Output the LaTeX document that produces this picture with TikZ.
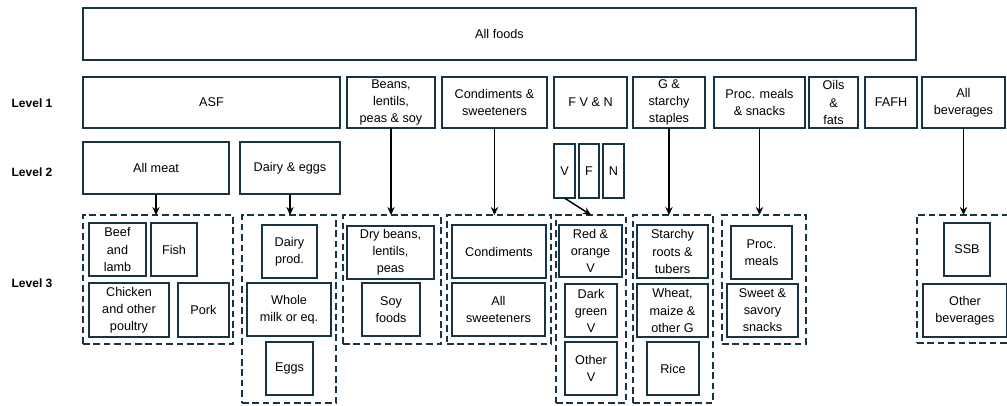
\documentclass[tikz,border=0pt]{standalone}
\usepackage{fontspec}
\setmainfont{Liberation Sans}
\usetikzlibrary{arrows,arrows.meta,positioning,calc}
\definecolor{edgeblue}{RGB}{24,52,68}

\begin{document}
\begin{tikzpicture}[
    x=0.75pt, y=-0.75pt,
    sz/.style 2 args={minimum width=#1*0.75pt, minimum height=#2*0.75pt},
    box/.style={rectangle, draw=edgeblue, line width=1.5pt, inner sep=1pt, outer sep=0pt, align=center, font=\fontsize{9.5}{12.8}\selectfont},
    group/.style={rectangle, draw=edgeblue, line width=1.2pt, dash pattern=on 5pt off 2.8pt, inner sep=0pt, outer sep=0pt},
    level/.style={font=\fontsize{9}{10}\selectfont\bfseries},
    arrow/.style={-{Stealth[length=6pt,width=5.5pt]}, line width=1.1pt}
]
\useasboundingbox (0,0) rectangle (1007,405);

% Top
\node[box, sz={833}{52}] (allfoods) at (499.5,34) {All foods};

% Level 1
\node[box, sz={257}{51}] (asf) at (211.5,102.5) {ASF};
\node[box, sz={88}{51}] (beans) at (391,102.5) {Beans,\\lentils,\\peas \& soy};
\node[box, sz={105}{51}] (cond) at (494.5,102.5) {Condiments \&\\sweeteners};
\node[box, sz={73}{51}] (fvn) at (590.5,102.5) {F V \& N};
\node[box, sz={72}{51}] (gstarch) at (669,102.5) {G \&\\starchy\\staples};
\node[box, sz={91}{51}] (procsn) at (759.5,102.5) {Proc. meals\\\& snacks};
\node[box, sz={49}{51}] (oils) at (833.5,102.5) {Oils\\\&\\fats};
\node[box, sz={52}{51}] (fafh) at (891,102.5) {FAFH};
\node[box, sz={83}{51}] (allbev) at (963.5,102.5) {All\\beverages};

% Level 2
\node[box, sz={146}{52}] (allmeat) at (156,168) {All meat};
\node[box, sz={100}{52}] (dairyeggs) at (290,168) {Dairy \& eggs};
\node[box, sz={21}{54}] (veg) at (564.5,171) {V};
\node[box, sz={20}{54}] (fruit) at (589,171) {F};
\node[box, sz={21}{54}] (nuts) at (613.5,171) {N};

% Level 3 groups
\node[group, sz={150}{129}] (grpmeat) at (158,279.5) {};
\node[group, sz={94}{188}] (grpdairy) at (289,309) {};
\node[group, sz={98}{129}] (grpbeans) at (392,279.5) {};
\node[group, sz={104}{129}] (grpcond) at (499,279.5) {};
\node[group, sz={70}{188}] (grpfvn) at (591,309) {};
\node[group, sz={80}{188}] (grpg) at (673,309) {};
\node[group, sz={84}{129}] (grpproc) at (764,279.5) {};
\node[group, sz={96}{128}] (grpbev) at (965,279) {};

% Level 3 items
\node[box, sz={57}{53}] (beef) at (117.5,249.5) {Beef\\and\\lamb};
\node[box, sz={46}{53}] (fish) at (174,249.5) {Fish};
\node[box, sz={80}{54}] (chicken) at (129,310) {Chicken\\and other\\poultry};
\node[box, sz={51}{54}] (pork) at (203.5,310) {Pork};

\node[box, sz={55}{53}] (dairyprod) at (289.5,251.5) {Dairy\\prod.};
\node[box, sz={84}{53}] (wholemilk) at (289,309.5) {Whole\\milk or eq.};
\node[box, sz={47}{53}] (eggs) at (289.5,368.5) {Eggs};

\node[box, sz={87}{53}] (drybeans) at (390.5,252.5) {Dry beans,\\lentils,\\peas};
\node[box, sz={58}{53}] (soy) at (391,309.5) {Soy\\foods};

\node[box, sz={94}{53}] (condiments) at (499,251.5) {Condiments};
\node[box, sz={93}{53}] (sweeteners) at (498.5,309.5) {All\\sweeteners};

\node[box, sz={63}{52}] (redv) at (590.5,251) {Red \&\\orange\\V};
\node[box, sz={52}{53}] (darkv) at (591,310.5) {Dark\\green\\V};
\node[box, sz={52}{53}] (otherv) at (591,368.5) {Other\\V};

\node[box, sz={71}{53}] (starchy) at (672.5,251.5) {Starchy\\roots \&\\tubers};
\node[box, sz={71}{53}] (wheat) at (672.5,310.5) {Wheat,\\maize \&\\other G};
\node[box, sz={52}{53}] (rice) at (673,368.5) {Rice};

\node[box, sz={61}{53}] (procmeals) at (761.5,252.5) {Proc.\\meals};
\node[box, sz={71}{53}] (snacks) at (762.5,310.5) {Sweet \&\\savory\\snacks};

\node[box, sz={46}{53}] (ssb) at (967,249.5) {SSB};
\node[box, sz={84}{53}] (otherbev) at (965,310.5) {Other\\beverages};

% Arrows
\draw[arrow] (allmeat.south) -- (allmeat.south |- grpmeat.north);
\draw[arrow] (dairyeggs.south) -- (dairyeggs.south |- grpdairy.north);
\draw[arrow] (beans.south) -- (beans.south |- grpbeans.north);
\draw[arrow] (cond.south) -- (cond.south |- grpcond.north);
\draw[arrow] (veg.south) -- (grpfvn.north);
\draw[arrow] (gstarch.south) -- (gstarch.south |- grpg.north);
\draw[arrow] (procsn.south) -- (procsn.south |- grpproc.north);
\draw[arrow] (allbev.south) -- (allbev.south |- grpbev.north);

% Labels
\node[level] (lvl1) at (32,103) {Level 1};
\node[level] (lvl2) at (32,172) {Level 2};
\node[level] (lvl3) at (32,283) {Level 3};

\end{tikzpicture}
\end{document}
